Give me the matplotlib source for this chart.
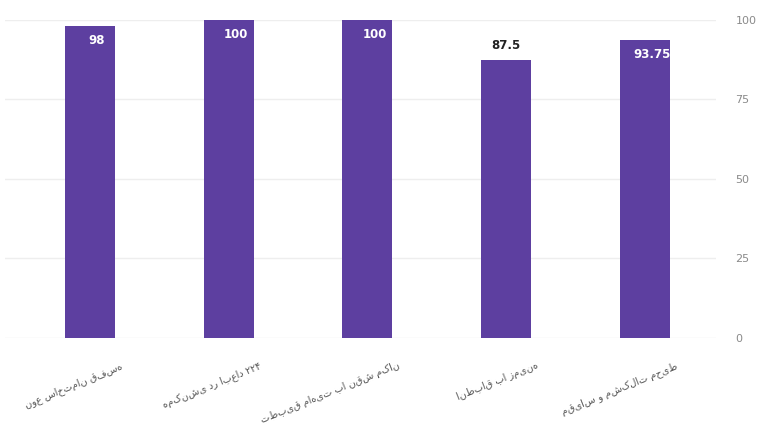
import matplotlib.pyplot as plt
import matplotlib.transforms as mtransforms

# data
labels = ['نوع ساختمان قفسه', 'هم‌کنشی در ابعاد ۲۲۴', 'تطبیق ماهیت با نقش مکان',
          'انطباق با زمینه', 'مقیاس و مشکلات محیط']
values = [98, 100, 100, 87.5, 93.75]
value_text = ['98', '100', '100', '87.5', '93.75']
yticks = [0, 25, 50, 75, 100]

plt.rcParams['font.family'] = ['DejaVu Sans']

fig = plt.figure(figsize=(7.67, 4.36), dpi=100)
ax = fig.add_axes([0.0065, 0.2248, 0.927, 0.7294])

x = list(range(len(values)))
ax.bar(x, values, width=0.36, color='#5d3fa0', zorder=3)

ax.set_xlim(-0.61, 4.51)
ax.set_ylim(0, 100)
ax.yaxis.tick_right()
ax.set_yticks(yticks)
ax.tick_params(axis='y', length=0, labelsize=8, labelcolor='#8a8a8a', pad=14)
ax.tick_params(axis='x', length=0, labelsize=7, labelcolor='#555555', pad=16)
ax.set_xticks(x)
ax.set_xticklabels(labels, rotation=22, ha='right', rotation_mode='anchor')
# shift the rotated labels so they end a bit right of the bar centre
shift = mtransforms.ScaledTranslation(0.30, 0, fig.dpi_scale_trans)
for lab in ax.get_xticklabels():
    lab.set_transform(lab.get_transform() + shift)
ax.grid(axis='y', color='#eeeeee', linewidth=1, zorder=0)
for s in ax.spines.values():
    s.set_visible(False)

# value labels
for i, v in enumerate(values):
    if v < 90:
        ax.text(i, v + 2.5, value_text[i], ha='center', va='bottom',
                fontsize=8.5, fontweight='bold', color='#222222', zorder=4)
    else:
        ax.text(i + 0.05, v - 2.5, value_text[i], ha='center', va='top',
                fontsize=8.5, fontweight='bold', color='white', zorder=4)

fig.savefig('out.png', dpi=100)
